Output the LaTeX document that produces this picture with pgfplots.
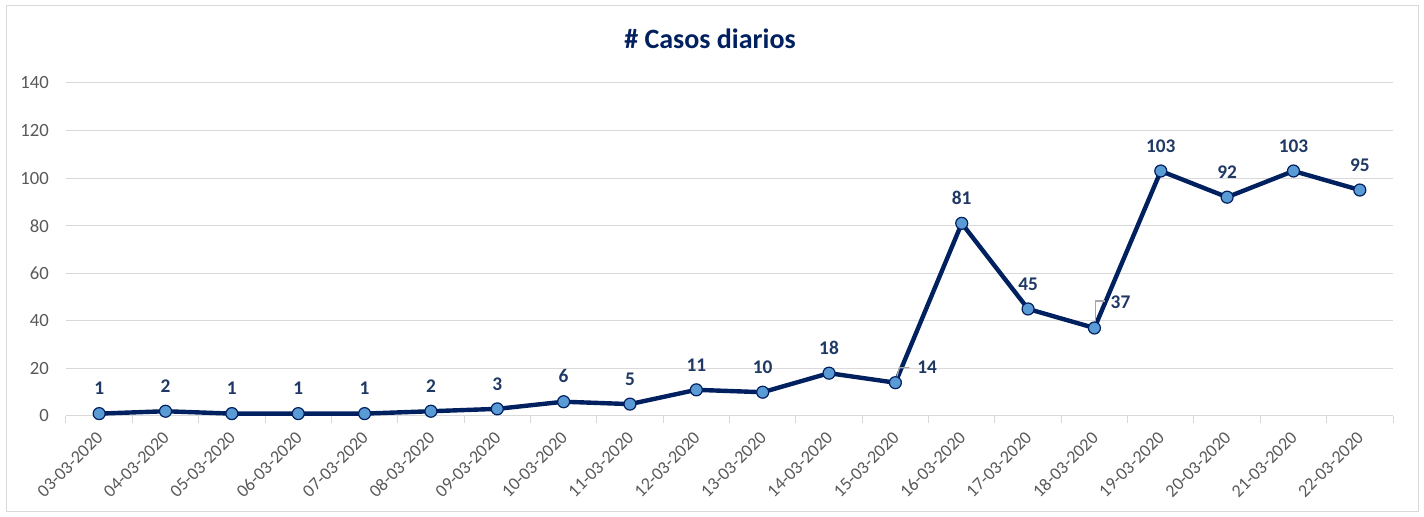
\documentclass[border=0pt]{standalone}
\usepackage{fontspec}
\setmainfont{Carlito}
\usepackage{pgfplots}
\pgfplotsset{compat=1.18}
\definecolor{navy}{HTML}{002060}
\definecolor{lblue}{HTML}{5B9BD5}
\definecolor{gridc}{HTML}{D9D9D9}
\definecolor{tickc}{HTML}{595959}
\definecolor{lblc}{HTML}{1F3864}
\definecolor{leader}{HTML}{A6A6A6}
\begin{document}
\begin{tikzpicture}[x=1pt,y=1pt]
\useasboundingbox (0,0) rectangle (1068,387.75);
\draw[gridc, line width=0.75pt, fill=white] (4.5,3.75) rectangle (1063.5,383.25);
\node[anchor=base, font=\fontsize{21}{24}\selectfont\bfseries, text=navy] at (532.5,351) {\# Casos diarios};
\begin{axis}[
  at={(49.5pt,75.75pt)}, anchor=south west,
  scale only axis, width=995.25pt, height=249.75pt,
  xmin=-0.5, xmax=19.5, ymin=0, ymax=140,
  ytick={0,20,...,140},
  xtick={0,...,19},
  xticklabels={03-03-2020,04-03-2020,05-03-2020,06-03-2020,07-03-2020,08-03-2020,09-03-2020,10-03-2020,11-03-2020,12-03-2020,13-03-2020,14-03-2020,15-03-2020,16-03-2020,17-03-2020,18-03-2020,19-03-2020,20-03-2020,21-03-2020,22-03-2020},
  minor xtick={-0.5,0.5,...,19.5},
  axis x line*=bottom, axis y line*=left,
  x axis line style={gridc, line width=0.75pt},
  y axis line style={draw=none},
  major tick length=0pt,
  minor tick length=5.25pt,
  tick align=outside,
  minor tick style={gridc, line width=0.75pt},
  ymajorgrids, grid style={gridc, line width=0.75pt},
  tick label style={font=\fontsize{14}{16}\selectfont, text=tickc},
  yticklabel style={anchor=east, inner sep=0pt, xshift=-12.75pt},
  xticklabel style={font=\fontsize{13.5}{16}\selectfont, inner sep=0pt, xshift=0.5pt, yshift=-14pt, rotate=45, anchor=east},
  /pgf/number format/assume math mode=true,
  clip=false,
]
\addplot[navy, line width=3.3pt, line join=round, mark=*, mark size=4.5pt,
  mark options={fill=lblue, draw=navy, line width=0.9pt}]
coordinates {(0,1)(1,2)(2,1)(3,1)(4,1)(5,2)(6,3)(7,6)(8,5)(9,11)(10,10)(11,18)(12,14)(13,81)(14,45)(15,37)(16,103)(17,92)(18,103)(19,95)};
\addplot[draw=none, mark=none, nodes near coords,
  nodes near coords style={anchor=south, yshift=10.5pt, font=\fontsize{14.5}{16}\selectfont\bfseries, text=lblc}]
coordinates {(0,1)(1,2)(2,1)(3,1)(4,1)(5,2)(6,3)(7,6)(8,5)(9,11)(10,10)(11,18)(13,81)(14,45)(16,103)(17,92)(18,103)(19,95)};
\addplot[draw=none, mark=none, nodes near coords,
  nodes near coords style={anchor=west, xshift=13pt, yshift=11.25pt, font=\fontsize{14.5}{16}\selectfont\bfseries, text=lblc}]
coordinates {(12,14)};
\addplot[draw=none, mark=none, nodes near coords,
  nodes near coords style={anchor=west, xshift=8.7pt, yshift=19.5pt, font=\fontsize{14.5}{16}\selectfont\bfseries, text=lblc}]
coordinates {(15,37)};
\draw[leader, line width=0.9pt] ([xshift=0.75pt,yshift=3pt]axis cs:12,14) -- ([xshift=3pt,yshift=11.25pt]axis cs:12,14) -- ([xshift=10.5pt,yshift=11.25pt]axis cs:12,14);
\draw[leader, line width=0.9pt] ([xshift=1pt,yshift=4pt]axis cs:15,37) -- ([xshift=1pt,yshift=20.25pt]axis cs:15,37) -- ([xshift=8.25pt,yshift=20.25pt]axis cs:15,37);
\end{axis}
\end{tikzpicture}
\end{document}
